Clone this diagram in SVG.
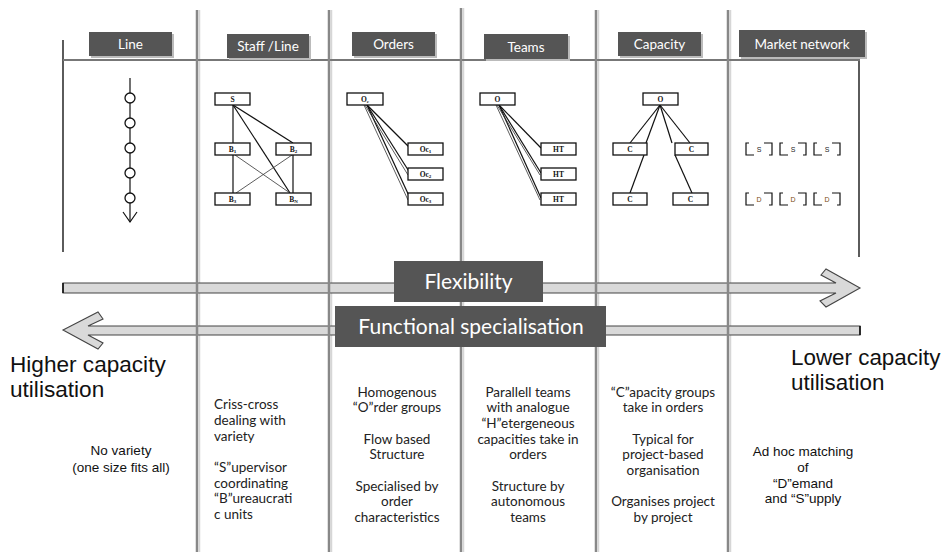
<svg xmlns="http://www.w3.org/2000/svg" width="945" height="552" viewBox="0 0 945 552">
<style>
.hdr{fill:#555555}
.hdrs{fill:#bbbbbb}
.ht{font-family:Lato,"Liberation Sans",sans-serif;font-size:13.5px;fill:#ffffff;text-anchor:middle}
.vl{stroke:#888888;stroke-width:2.5;fill:none}
.vs{stroke:#d6d6d6;stroke-width:1.5;fill:none}
.bx{fill:#ffffff;stroke:#111111;stroke-width:1.3}
.bt{font-family:"Liberation Serif",serif;font-size:7.5px;fill:#111111;text-anchor:middle;font-weight:bold}
.ln{stroke:#111111;stroke-width:1.2;fill:none}
.lnt{stroke:#333333;stroke-width:0.8;fill:none}
.body{font-family:Lato,"Liberation Sans",sans-serif;font-size:13.5px;fill:#222222}
.ar{font-family:"Liberation Sans",Arial,sans-serif;fill:#111111}
.big{font-family:Lato,"Liberation Sans",sans-serif;font-size:21px;fill:#ffffff;text-anchor:middle}
.arrow{fill:#d9d9d9;stroke:#444444;stroke-width:1.1}
.br{stroke:#111111;stroke-width:1.2;fill:none}
</style>

<g id="frame">
  <line class="vs" x1="199.5" y1="10" x2="199.5" y2="552"/>
  <line class="vs" x1="331.5" y1="10" x2="331.5" y2="552"/>
  <line class="vs" x1="463.5" y1="8" x2="463.5" y2="552"/>
  <line class="vs" x1="598.5" y1="10" x2="598.5" y2="552"/>
  <line class="vs" x1="730.5" y1="10" x2="730.5" y2="552"/>
  <line x1="63" y1="40" x2="63" y2="252" stroke="#333333" stroke-width="1.6"/>
  <line x1="859" y1="59" x2="859" y2="257" stroke="#333333" stroke-width="1.6"/>
  <line x1="63" y1="60" x2="860" y2="60" stroke="#777777" stroke-width="2"/>
</g>

<g id="arrows">
  <path id="flex-arrow" class="arrow" d="M63,283 H836 L821,275 L826,269 L860,288 L826,307 L820,301 L836,293 H63 Z"/>
  <path id="func-arrow" class="arrow" d="M860,326 H88 L103,319 L98,312 L63,330 L98,349 L103,343 L88,335 H860 Z"/>
  <line x1="63" y1="283" x2="63" y2="293" stroke="#111" stroke-width="1.6"/>
  <line x1="860" y1="326" x2="860" y2="335" stroke="#111" stroke-width="1.6"/>
</g>

<g id="columns">
  <line class="vl" x1="197" y1="10" x2="197" y2="552"/>
  <line class="vl" x1="329" y1="10" x2="329" y2="552"/>
  <line class="vl" x1="461" y1="8" x2="461" y2="552"/>
  <line class="vl" x1="596" y1="10" x2="596" y2="552"/>
  <line class="vl" x1="728" y1="10" x2="728" y2="552"/>
</g>

<g id="header-line">
  <rect class="hdrs" x="91" y="34" width="83" height="24"/>
  <rect class="hdr" x="89" y="32" width="83" height="24"/>
  <text class="ht" x="130.5" y="49">Line</text>
</g>
<g id="header-staff">
  <rect class="hdrs" x="229" y="36" width="82" height="24"/>
  <rect class="hdr" x="227" y="34" width="82" height="24"/>
  <text class="ht" x="268" y="51">Staff /Line</text>
</g>
<g id="header-orders">
  <rect class="hdrs" x="354" y="34" width="83" height="24"/>
  <rect class="hdr" x="352" y="32" width="83" height="24"/>
  <text class="ht" x="393.5" y="49">Orders</text>
</g>
<g id="header-teams">
  <rect class="hdrs" x="486" y="36" width="84" height="25"/>
  <rect class="hdr" x="484" y="34" width="84" height="25"/>
  <text class="ht" x="526" y="51.5">Teams</text>
</g>
<g id="header-capacity">
  <rect class="hdrs" x="620" y="34" width="83" height="24"/>
  <rect class="hdr" x="618" y="32" width="83" height="24"/>
  <text class="ht" x="659.5" y="49">Capacity</text>
</g>
<g id="header-market">
  <rect class="hdrs" x="741" y="32" width="126" height="27"/>
  <rect class="hdr" x="739" y="30" width="126" height="27"/>
  <text class="ht" x="802" y="48.5">Market network</text>
</g>

<g id="diagram-line">
  <line class="ln" x1="130" y1="78" x2="130" y2="222"/>
  <circle class="bx" cx="130" cy="98" r="5"/>
  <circle class="bx" cx="130" cy="123" r="5"/>
  <circle class="bx" cx="130" cy="148" r="5"/>
  <circle class="bx" cx="130" cy="173" r="5"/>
  <circle class="bx" cx="130" cy="198" r="5"/>
  <path class="ln" d="M123,212 L130,222 L137,212"/>
</g>

<g id="diagram-staff">
  <line class="ln" x1="233" y1="105" x2="233" y2="143"/>
  <line class="ln" x1="233" y1="105" x2="293" y2="143"/>
  <line class="ln" x1="233" y1="105" x2="290" y2="193"/>
  <line class="lnt" x1="235" y1="155" x2="290" y2="193"/>
  <line class="lnt" x1="292" y1="155" x2="236" y2="193"/>
  <line class="ln" x1="233" y1="155" x2="233" y2="193"/>
  <line class="ln" x1="293" y1="155" x2="293" y2="193"/>
  <rect class="bx" x="215" y="93" width="35" height="12"/>
  <text class="bt" x="232.5" y="102">S</text>
  <rect class="bx" x="215" y="143" width="35" height="12"/>
  <text class="bt" x="232.5" y="152">B<tspan font-size="5" dy="1">1</tspan></text>
  <rect class="bx" x="276" y="143" width="35" height="12"/>
  <text class="bt" x="293.5" y="152">B<tspan font-size="5" dy="1">2</tspan></text>
  <rect class="bx" x="215" y="193" width="35" height="12"/>
  <text class="bt" x="232.5" y="202">B<tspan font-size="5" dy="1">3</tspan></text>
  <rect class="bx" x="276" y="193" width="35" height="12"/>
  <text class="bt" x="293.5" y="202">B<tspan font-size="5" dy="1">N</tspan></text>
</g>

<g id="diagram-orders">
  <line class="ln" x1="367" y1="105" x2="410" y2="148"/>
  <line class="ln" x1="367" y1="105" x2="410" y2="173"/>
  <line class="ln" x1="367" y1="105" x2="410" y2="198"/>
  <line class="lnt" x1="365" y1="105" x2="408" y2="175"/>
  <line class="lnt" x1="364" y1="105" x2="408" y2="200"/>
  <rect class="bx" x="347" y="93" width="36" height="12"/>
  <text class="bt" x="365" y="102">O<tspan font-size="5" dy="1">c</tspan></text>
  <rect class="bx" x="408" y="143" width="35" height="12"/>
  <text class="bt" x="425.5" y="152">Oc<tspan font-size="5" dy="1">1</tspan></text>
  <rect class="bx" x="408" y="168" width="35" height="12"/>
  <text class="bt" x="425.5" y="177">Oc<tspan font-size="5" dy="1">2</tspan></text>
  <rect class="bx" x="408" y="193" width="35" height="12"/>
  <text class="bt" x="425.5" y="202">Oc<tspan font-size="5" dy="1">3</tspan></text>
</g>

<g id="diagram-teams">
  <line class="ln" x1="499" y1="105" x2="541" y2="148"/>
  <line class="ln" x1="499" y1="105" x2="541" y2="173"/>
  <line class="ln" x1="499" y1="105" x2="541" y2="198"/>
  <line class="lnt" x1="497" y1="105" x2="540" y2="175"/>
  <line class="lnt" x1="496" y1="105" x2="540" y2="200"/>
  <rect class="bx" x="480" y="93" width="35" height="12"/>
  <text class="bt" x="497.5" y="102">O</text>
  <rect class="bx" x="541" y="143" width="35" height="12"/>
  <text class="bt" x="558.5" y="152">HT</text>
  <rect class="bx" x="541" y="168" width="35" height="12"/>
  <text class="bt" x="558.5" y="177">HT</text>
  <rect class="bx" x="541" y="193" width="35" height="12"/>
  <text class="bt" x="558.5" y="202">HT</text>
</g>

<g id="diagram-capacity">
  <line class="ln" x1="660" y1="105" x2="630" y2="143"/>
  <line class="ln" x1="660" y1="105" x2="646" y2="143"/>
  <line class="ln" x1="660" y1="105" x2="672" y2="143"/>
  <line class="ln" x1="660" y1="105" x2="690" y2="143"/>
  <line class="ln" x1="644" y1="155" x2="630" y2="193"/>
  <line class="ln" x1="675" y1="155" x2="692" y2="193"/>
  <rect class="bx" x="643" y="93" width="35" height="12"/>
  <text class="bt" x="660.5" y="102">O</text>
  <rect class="bx" x="613" y="143" width="34" height="12"/>
  <text class="bt" x="630" y="152">C</text>
  <rect class="bx" x="675" y="143" width="33" height="12"/>
  <text class="bt" x="691.5" y="152">C</text>
  <rect class="bx" x="613" y="193" width="34" height="12"/>
  <text class="bt" x="630" y="202">C</text>
  <rect class="bx" x="673" y="193" width="35" height="12"/>
  <text class="bt" x="690.5" y="202">C</text>
</g>

<g id="diagram-market" font-family="'Liberation Sans',Arial,sans-serif" font-size="7" text-anchor="middle">
  <path class="br" d="M754,155 H746 V143 H749 M764,143 H772 V155 H769"/>
  <text x="759" y="152" fill="#222">S</text>
  <path class="br" d="M788,155 H780 V143 H783 M798,143 H806 V155 H803"/>
  <text x="793" y="152" fill="#222">S</text>
  <path class="br" d="M822,155 H814 V143 H817 M832,143 H840 V155 H837"/>
  <text x="827" y="152" fill="#222">S</text>
  <path class="br" d="M754,205 H746 V193 H749 M764,193 H772 V205 H769"/>
  <text x="759" y="202" fill="#7a4a12">D</text>
  <path class="br" d="M788,205 H780 V193 H783 M798,193 H806 V205 H803"/>
  <text x="793" y="202" fill="#7a4a12">D</text>
  <path class="br" d="M822,205 H814 V193 H817 M832,193 H840 V205 H837"/>
  <text x="827" y="202" fill="#7a4a12">D</text>
</g>

<g id="label-flexibility">
  <rect x="394" y="261" width="149" height="41" fill="#555555"/>
  <text class="big" x="468.5" y="288.5">Flexibility</text>
</g>
<g id="label-functional">
  <rect x="335" y="306" width="271" height="41" fill="#555555"/>
  <text class="big" x="471" y="333.5">Functional specialisation</text>
</g>

<g id="text-left" class="ar" font-size="22.6">
  <text x="10" y="372">Higher capacity</text>
  <text x="10" y="397">utilisation</text>
</g>
<g id="text-right" class="ar" font-size="22.4">
  <text x="791" y="365">Lower capacity</text>
  <text x="791" y="390">utilisation</text>
</g>

<g id="text-line" class="ar" font-size="13.5" text-anchor="middle">
  <text x="121" y="455">No variety</text>
  <text x="121" y="472">(one size fits all)</text>
</g>
<g id="text-staff" class="body">
  <text x="214" y="409">Criss-cross</text>
  <text x="214" y="425">dealing with</text>
  <text x="214" y="441">variety</text>
  <text x="214" y="472">“S”upervisor</text>
  <text x="214" y="488">coordinating</text>
  <text x="214" y="503">“B”ureaucrati</text>
  <text x="214" y="519">c units</text>
</g>
<g id="text-orders" class="body" text-anchor="middle">
  <text x="397" y="397">Homogenous</text>
  <text x="397" y="412">“O”rder groups</text>
  <text x="397" y="444">Flow based</text>
  <text x="397" y="459">Structure</text>
  <text x="397" y="491">Specialised by</text>
  <text x="397" y="506">order</text>
  <text x="397" y="522">characteristics</text>
</g>
<g id="text-teams" class="body" text-anchor="middle">
  <text x="528" y="397">Parallell teams</text>
  <text x="528" y="412">with analogue</text>
  <text x="528" y="428">“H”etergeneous</text>
  <text x="528" y="444">capacities take in</text>
  <text x="528" y="459">orders</text>
  <text x="528" y="491">Structure by</text>
  <text x="528" y="506">autonomous</text>
  <text x="528" y="522">teams</text>
</g>
<g id="text-capacity" class="body" text-anchor="middle">
  <text x="663" y="397">“C”apacity groups</text>
  <text x="663" y="412">take in orders</text>
  <text x="663" y="444">Typical for</text>
  <text x="663" y="459">project-based</text>
  <text x="663" y="475">organisation</text>
  <text x="663" y="506">Organises project</text>
  <text x="663" y="522">by project</text>
</g>
<g id="text-market" class="ar" font-size="13.5" text-anchor="middle">
  <text x="803" y="456">Ad hoc matching</text>
  <text x="803" y="472">of</text>
  <text x="803" y="488">“D”emand</text>
  <text x="803" y="503">and “S”upply</text>
</g>
</svg>
